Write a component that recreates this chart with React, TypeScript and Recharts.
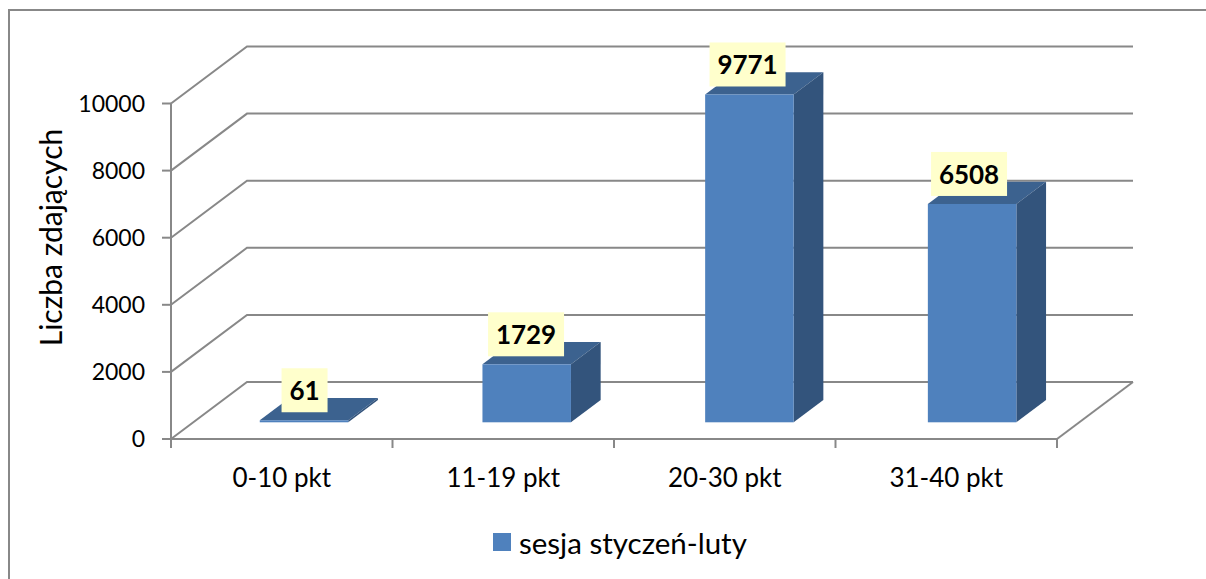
import { Bar, BarChart, CartesianGrid, LabelList, Legend, XAxis, YAxis } from 'recharts';

const categories = ['0-10 pkt', '11-19 pkt', '20-30 pkt', '31-40 pkt'];
const values = [61, 1729, 9771, 6508];
const yTicks = [0, 2000, 4000, 6000, 8000, 10000];
const seriesName = 'sesja styczeń-luty';
const yTitle = 'Liczba zdających';

const data = categories.map((name, i) => ({ name, value: values[i] }));

const FONT = 'Lato, sans-serif';
const LINE = '#888888';
const BAND = 221.5;
const PLOT_LEFT = 171;
const PLOT_BOTTOM = 439;

// wall depth and bar depth of the fake 3D box
const WALL_DX = 76;
const WALL_DY = -57;
const BAR_SHIFT_X = 21.4;
const BAR_SPREAD = 0.0054; // bars drift right a little along the floor
const BAR_SHIFT_Y = -16.7;
const BAR_DX = 29.7;
const BAR_DY = -22.3;
const LABEL_SHIFT_X = 22.3;

function wallLine(props: any) {
  const { x1, x2, y1 } = props;
  const isFloor = y1 > PLOT_BOTTOM - 1;
  const backY = y1 + WALL_DY;
  return (
    <g key={`wall-${y1}`} fill="none" stroke={LINE} strokeWidth={2}>
      <polyline points={`${x1},${y1} ${x1 + WALL_DX},${backY} ${x2 + WALL_DX},${backY}`} />
      {isFloor && <line x1={x2} y1={y1} x2={x2 + WALL_DX} y2={backY} />}
    </g>
  );
}

function Box3D(props: any) {
  const { x, y, width, height, fill } = props;
  const left = x + BAR_SHIFT_X + (x - PLOT_LEFT) * BAR_SPREAD;
  const top = y + BAR_SHIFT_Y;
  const right = left + width;
  const bottom = top + height;
  return (
    <g>
      <polygon
        points={`${left},${top} ${left + BAR_DX},${top + BAR_DY} ${right + BAR_DX},${top + BAR_DY} ${right},${top}`}
        fill="#3c628f"
      />
      <polygon
        points={`${right},${top} ${right + BAR_DX},${top + BAR_DY} ${right + BAR_DX},${bottom + BAR_DY} ${right},${bottom}`}
        fill="#33547c"
      />
      <rect x={left} y={top} width={width} height={height} fill={fill} />
    </g>
  );
}

function ValueLabel(props: any) {
  const { x, y, width, value } = props;
  const boxW = String(value).length > 2 ? 76 : 46;
  const cx = x + width / 2 + LABEL_SHIFT_X;
  const cy = y + BAR_SHIFT_Y - 30;
  return (
    <g>
      <rect x={cx - boxW / 2} y={cy - 22} width={boxW} height={44} fill="#ffffcc" />
      <text x={cx} y={cy} textAnchor="middle" dominantBaseline="central" fontFamily={FONT} fontWeight={700} fontSize={26} fill="#000">
        {value}
      </text>
    </g>
  );
}

function CategoryTick(props: any) {
  const { x, y, index, payload } = props;
  const start = x - BAND / 2;
  return (
    <g>
      <line x1={start} y1={PLOT_BOTTOM} x2={start} y2={PLOT_BOTTOM + 9} stroke={LINE} strokeWidth={2} />
      {index === categories.length - 1 && (
        <line x1={start + BAND} y1={PLOT_BOTTOM} x2={start + BAND} y2={PLOT_BOTTOM + 9} stroke={LINE} strokeWidth={2} />
      )}
      <text x={x} y={y + 40} textAnchor="middle" fontFamily={FONT} fontSize={26} fill="#000">
        {payload.value}
      </text>
    </g>
  );
}

function LegendContent({ payload }: any) {
  return (
    <div style={{ display: 'flex', alignItems: 'center', height: 30, fontFamily: FONT, fontSize: 29.5, color: '#000' }}>
      {(payload || []).map((item: any) => (
        <span key={item.value} style={{ display: 'flex', alignItems: 'center' }}>
          <span style={{ width: 18, height: 18, background: item.color, marginRight: 8 }} />
          {item.value}
        </span>
      ))}
    </div>
  );
}

export default function App() {
  return (
    <div style={{ position: 'absolute', left: 0, top: 0, width: 1206, height: 579, background: '#fff', overflow: 'hidden' }}>
      <div style={{ position: 'absolute', left: 8, top: 9, width: 1198, height: 570, borderLeft: `2px solid ${LINE}`, borderTop: `2px solid ${LINE}` }} />
      <BarChart width={1206} height={579} data={data} margin={{ top: 103.5, right: 149, bottom: 70, left: 0 }}>
        <CartesianGrid horizontal={wallLine} vertical={false} />
        <XAxis dataKey="name" height={40} stroke={LINE} strokeWidth={2} tickLine={false} tick={<CategoryTick />} interval={0} />
        <YAxis
          width={171}
          domain={[0, 10000]}
          ticks={yTicks}
          interval={0}
          stroke={LINE}
          strokeWidth={2}
          tickSize={9}
          tickMargin={17}
          tick={{ fontFamily: FONT, fontSize: 23, fill: '#000' }}
          label={{ value: yTitle, angle: -90, position: 'insideLeft', fontFamily: FONT, fontSize: 30, fill: '#000', dx: 46, dy: 75 }}
        />
        <Legend
          content={<LegendContent />}
          wrapperStyle={{ left: 493, top: 527, bottom: 'auto', width: 290, height: 30 }}
        />
        <Bar dataKey="value" name={seriesName} fill="#4f81bd" barSize={88.5} shape={<Box3D />} isAnimationActive={false}>
          <LabelList dataKey="value" content={<ValueLabel />} />
        </Bar>
      </BarChart>
    </div>
  );
}
